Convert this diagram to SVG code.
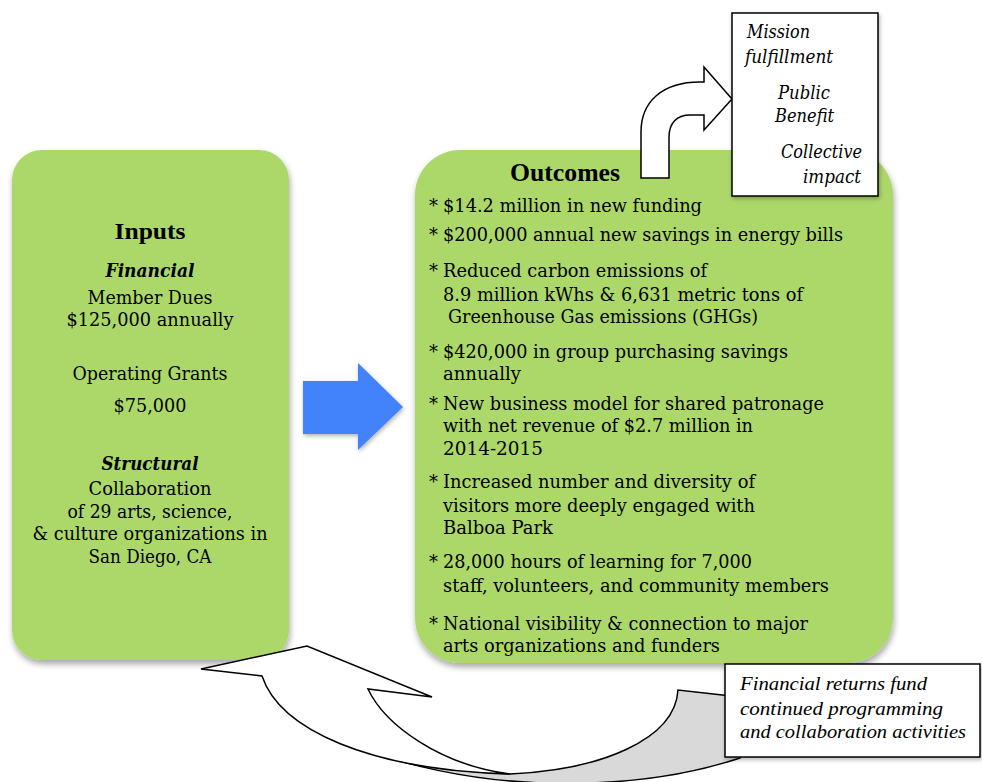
<svg xmlns="http://www.w3.org/2000/svg" width="982" height="782" viewBox="0 0 982 782">
<defs>
<filter id="sh" x="-10%" y="-10%" width="120%" height="120%">
<feDropShadow dx="1" dy="4" stdDeviation="3" flood-color="#000" flood-opacity="0.35"/>
</filter>
<filter id="sh2" x="-10%" y="-10%" width="130%" height="130%">
<feDropShadow dx="1" dy="2" stdDeviation="2" flood-color="#000" flood-opacity="0.3"/>
</filter>
</defs>
<style>
.box{fill:#acd86b;}
.t{font-family:"DejaVu Serif","Liberation Serif",serif;font-size:18px;fill:#000;}
.h{font-family:"Liberation Serif","DejaVu Serif",serif;font-weight:bold;fill:#000;}
.r{font-family:"Liberation Serif","DejaVu Serif",serif;font-style:italic;font-size:19px;fill:#000;}
.c{text-anchor:middle;}
.b{font-weight:bold;}
.i{font-style:italic;}
.wl{fill:#fff;stroke:#000;stroke-width:1.5;stroke-linejoin:miter;}
.gr{fill:#d9d9d9;stroke:#000;stroke-width:1.5;}
</style>
<rect width="982" height="782" fill="#fff"/>

<g id="inputs">
<rect class="box" x="12" y="150" width="277" height="510" rx="30" filter="url(#sh)"/>
<text class="h c" x="150" y="239" font-size="24" textLength="71" lengthAdjust="spacingAndGlyphs">Inputs</text>
<text class="t c b i" x="150" y="277" textLength="89" lengthAdjust="spacingAndGlyphs">Financial</text>
<text class="t c" x="150" y="304" textLength="125" lengthAdjust="spacingAndGlyphs">Member Dues</text>
<text class="t c" x="150" y="326" textLength="167" lengthAdjust="spacingAndGlyphs">$125,000 annually</text>
<text class="t c" x="150" y="380" textLength="155" lengthAdjust="spacingAndGlyphs">Operating Grants</text>
<text class="t c" x="150" y="412" textLength="73" lengthAdjust="spacingAndGlyphs">$75,000</text>
<text class="t c b i" x="150" y="470" textLength="97" lengthAdjust="spacingAndGlyphs">Structural</text>
<text class="t c" x="150" y="495" textLength="123" lengthAdjust="spacingAndGlyphs">Collaboration</text>
<text class="t c" x="150" y="518" textLength="165" lengthAdjust="spacingAndGlyphs">of 29 arts, science,</text>
<text class="t c" x="150" y="540" textLength="235" lengthAdjust="spacingAndGlyphs">&amp; culture organizations in</text>
<text class="t c" x="150" y="563" textLength="123" lengthAdjust="spacingAndGlyphs">San Diego, CA</text>
</g>

<g id="outcomes">
<rect class="box" x="415" y="150" width="478" height="513" rx="45" filter="url(#sh)"/>
<text class="h c" x="565" y="181" font-size="25" textLength="110" lengthAdjust="spacingAndGlyphs">Outcomes</text>
<g class="t">
<text x="429" y="212">*</text><text x="443" y="212" textLength="259" lengthAdjust="spacingAndGlyphs">$14.2 million in new funding</text>
<text x="429" y="241">*</text><text x="443" y="241" textLength="400" lengthAdjust="spacingAndGlyphs">$200,000 annual new savings in energy bills</text>
<text x="429" y="277">*</text><text x="443" y="277" textLength="264" lengthAdjust="spacingAndGlyphs">Reduced carbon emissions of</text>
<text x="443" y="301" textLength="360" lengthAdjust="spacingAndGlyphs">8.9 million kWhs &amp; 6,631 metric tons of</text>
<text x="448" y="323" textLength="310" lengthAdjust="spacingAndGlyphs">Greenhouse Gas emissions (GHGs)</text>
<text x="429" y="358">*</text><text x="443" y="358" textLength="345" lengthAdjust="spacingAndGlyphs">$420,000 in group purchasing savings</text>
<text x="443" y="380" textLength="78" lengthAdjust="spacingAndGlyphs">annually</text>
<text x="429" y="410">*</text><text x="443" y="410" textLength="381" lengthAdjust="spacingAndGlyphs">New business model for shared patronage</text>
<text x="443" y="432" textLength="310" lengthAdjust="spacingAndGlyphs">with net revenue of $2.7 million in</text>
<text x="443" y="455" textLength="100" lengthAdjust="spacingAndGlyphs">2014-2015</text>
<text x="429" y="488">*</text><text x="443" y="488" textLength="312" lengthAdjust="spacingAndGlyphs">Increased number and diversity of</text>
<text x="443" y="512" textLength="312" lengthAdjust="spacingAndGlyphs">visitors more deeply engaged with</text>
<text x="443" y="534" textLength="110" lengthAdjust="spacingAndGlyphs">Balboa Park</text>
<text x="429" y="568">*</text><text x="443" y="568" textLength="309" lengthAdjust="spacingAndGlyphs">28,000 hours of learning for 7,000</text>
<text x="443" y="592" textLength="386" lengthAdjust="spacingAndGlyphs">staff, volunteers, and community members</text>
<text x="429" y="630">*</text><text x="443" y="630" textLength="365" lengthAdjust="spacingAndGlyphs">National visibility &amp; connection to major</text>
<text x="443" y="652" textLength="277" lengthAdjust="spacingAndGlyphs">arts organizations and funders</text>
</g>
</g>

<g id="connectors">
<path id="blue-arrow" d="M303,381 L358,381 L358,363 L403,407 L358,450 L358,434 L303,434 Z" fill="#4282fb" filter="url(#sh2)"/>
<path id="up-arrow" class="wl" d="M641,178 L641,132 C641,102 662,82 700,82 L704,82 L704,67 L732,99 L704,130 L704,115 L690,115 C677,115 669,123 669,137 L669,178 Z"/>
<g id="return-arrow">
<path class="gr" d="M510,774 C600,770 675,740 678,690 L740,697 L740,758 C680,778 610,785 543,783 C480,781 400,768 330,735 C380,762 450,772 510,774 Z"/>
<path class="wl" d="M201,669 L307,646 L432,697 L368,689 C385,725 440,765 510,774 C370,770 280,730 262,676 Z"/>
</g>
</g>

<g id="mission">
<rect x="732" y="13" width="146" height="183" fill="#fff" stroke="#000" stroke-width="1.5" filter="url(#sh2)"/>
<g class="t i" font-size="17">
<text x="747" y="38" textLength="63" lengthAdjust="spacingAndGlyphs">Mission</text>
<text x="745" y="63" textLength="88" lengthAdjust="spacingAndGlyphs">fulfillment</text>
<text x="778" y="99" textLength="52" lengthAdjust="spacingAndGlyphs">Public</text>
<text x="775" y="122" textLength="59" lengthAdjust="spacingAndGlyphs">Benefit</text>
<text x="781" y="158" textLength="81" lengthAdjust="spacingAndGlyphs">Collective</text>
<text x="803" y="183" textLength="58" lengthAdjust="spacingAndGlyphs">impact</text>
</g>
</g>

<g id="returns">
<rect x="725" y="664" width="255" height="93" fill="#fff" stroke="#000" stroke-width="1.5" filter="url(#sh2)"/>
<g class="r">
<text x="740" y="690" textLength="187" lengthAdjust="spacingAndGlyphs">Financial returns fund</text>
<text x="740" y="715" textLength="203" lengthAdjust="spacingAndGlyphs">continued programming</text>
<text x="740" y="738" textLength="226" lengthAdjust="spacingAndGlyphs">and collaboration activities</text>
</g>
</g>
</svg>
